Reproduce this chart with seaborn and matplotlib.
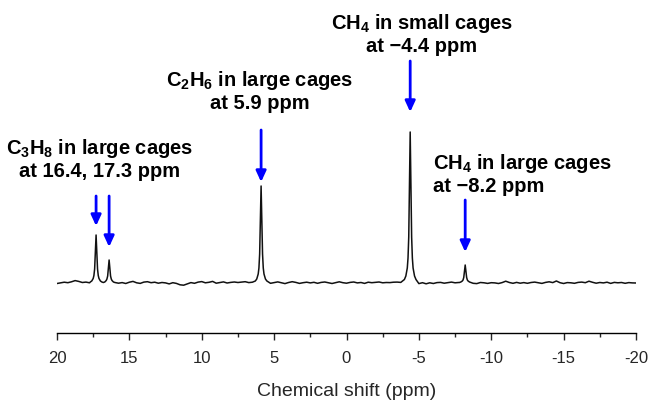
import numpy as np
import pandas as pd
import matplotlib
matplotlib.use("Agg")
import matplotlib.pyplot as plt
import seaborn as sns

# baseline intensity (a.u.) read every 0.25 ppm from 20 down to -20
baseline_ppm = np.arange(20, -20.001, -0.25)
baseline_int = [
    -0.5, 0.2, 0.8, 0.3, 1.2, 2.4, 1.6, 0.5, 0.9, 0.2,      # 20 .. 17.75
    0.6, 1.0, 0.4, -0.8, 0.6, 0.2, -0.6, -0.2, 0.4, -0.5,   # 17.5 .. 15.25
    0.8, 1.6, 0.2, -0.4, 0.9, 1.3, 0.3, 0.8, -0.2, 0.5,     # 15 .. 12.75
    0.1, -0.9, 0.3, -0.4, -1.8, -2.2, -0.9, 0.4, -0.3, 0.9, # 12.5 .. 10.25
    1.4, 0.2, 0.7, 1.6, -0.2, 0.5, 1.1, 0.0, 0.6, 1.0,      # 10 .. 7.75
    0.5, 0.9, 1.3, 0.4, 0.8, 0.6, 0.3, 0.2, 0.5, -0.3,      # 7.5 .. 5.25
    0.4, 1.1, 0.2, -0.6, 0.5, 1.3, 0.6, -0.4, 0.3, 0.8,     # 5 .. 2.75
    0.1, 0.7, -0.3, 0.6, 1.0, 0.2, -0.5, 0.4, 1.2, 0.3,     # 2.5 .. 0.25
    -0.2, 0.6, 1.0, 0.1, 0.5, -0.4, 0.8, 0.3, 0.6, 1.0,     # 0 .. -2.25
    0.2, 0.5, 0.4, 0.8, 0.9, 0.6, -0.2, 0.4, 0.3, -1.2,     # -2.5 .. -4.75
    -0.6, 0.3, -0.8, 0.2, -0.5, 0.4, 0.6, -0.2, 0.3, 0.9,   # -5 .. -7.25
    0.2, 0.5, 0.6, 0.4, 1.0, -0.3, -0.6, 0.5, 0.2, -0.4,    # -7.5 .. -9.75
    0.3, 0.1, -0.5, 0.4, 1.8, 0.5, -0.3, 0.6, -0.2, 0.4,    # -10 .. -12.25
    -0.3, 0.5, 0.9, 0.2, -0.4, 0.6, 1.2, 0.4, 2.0, 0.3,     # -12.5 .. -14.75
    -0.5, 0.4, 0.2, -0.3, 0.6, 0.9, 0.3, 1.8, 0.7, -0.2,    # -15 .. -17.25
    0.5, 0.1, 0.8, -0.4, 0.6, 0.2, 0.5, -0.3, 0.4, 0.1,     # -17.5 .. -19.75
    0.0,                                                    # -20
]

# peaks: centre (ppm) and profile
peak_names = ["C3H8 a", "C3H8 b", "C2H6", "CH4 small", "CH4 large"]
peak_center = [17.3, 16.4, 5.9, -4.4, -8.2]
peak_offsets = [-0.4, -0.3, -0.2, -0.15, -0.1, -0.05, 0.0, 0.05, 0.1, 0.15, 0.2, 0.3, 0.4]
peak_profiles = [
    [1.0, 2.0, 4.5, 7.5, 14, 32, 48, 32, 14, 7.5, 4.5, 2.0, 1.0],
    [0.5, 1.0, 2.5, 4.0, 7, 15, 23, 15, 7, 4.0, 2.5, 1.0, 0.5],
    [2.0, 4.0, 9.0, 15, 29, 64, 97, 64, 29, 15, 9.0, 4.0, 2.0],
    [3.5, 7.0, 15, 25, 46, 100, 151, 100, 46, 25, 15, 7.0, 3.5],
    [0.5, 1.0, 2.0, 3.0, 5.5, 12, 18, 12, 5.5, 3.0, 2.0, 1.0, 0.5],
]

# merge baseline and peak points into one spectrum table
keep = np.ones(len(baseline_ppm), dtype=bool)
for c in peak_center:
    keep &= np.abs(baseline_ppm - c) > 0.42
ppm = list(baseline_ppm[keep])
inten = list(np.array(baseline_int)[keep])
for c, prof in zip(peak_center, peak_profiles):
    ppm += [c + o for o in peak_offsets]
    inten += prof
spec = pd.DataFrame({"ppm": ppm, "intensity": inten}).sort_values("ppm")

sns.set_style("white")
plt.rcParams["font.family"] = ["Liberation Sans", "DejaVu Sans"]
plt.rcParams["mathtext.fontset"] = "custom"
plt.rcParams["mathtext.bf"] = "Liberation Sans:bold"
plt.rcParams["mathtext.rm"] = "Liberation Sans:bold"
plt.rcParams["axes.unicode_minus"] = False

fig = plt.figure(figsize=(6.48, 4.01), dpi=100)
ax = fig.add_axes([57 / 648, (401 - 333) / 401, 579 / 648, 323 / 401])

sns.lineplot(data=spec, x="ppm", y="intensity", color="#111111",
             linewidth=1.1, estimator=None, sort=False, ax=ax)

ax.set_xlim(20, -20)
ax.set_ylim(-50, 273)
ax.set_xticks([20, 15, 10, 5, 0, -5, -10, -15, -20])
ax.set_xticklabels(["20", "15", "10", "5", "0", "-5", "-10", "-15", "-20"])
ax.set_xticks([17.5, 12.5, 7.5, 2.5, -2.5, -7.5, -12.5, -17.5], minor=True)
ax.tick_params(axis="x", which="major", direction="out", length=5, width=1,
               labelsize=12, pad=8, bottom=True)
ax.tick_params(axis="x", which="minor", direction="out", length=3, width=1, bottom=True)
ax.set_yticks([])
ax.set_ylabel("")
ax.set_xlabel("Chemical shift (ppm)", fontsize=14, labelpad=12)
for s in ["top", "left", "right"]:
    ax.spines[s].set_visible(False)
ax.spines["bottom"].set_color("black")
ax.spines["bottom"].set_linewidth(1)

# arrows: (peak index, tail height, tip height)
arrows = [(0, 87, 57), (1, 87, 36), (2, 153, 101), (3, 222, 171), (4, 83, 31)]
for i, y0, y1 in arrows:
    ax.annotate("", xy=(peak_center[i], y1), xytext=(peak_center[i], y0),
                arrowprops=dict(arrowstyle="-|>,head_length=0.65,head_width=0.3",
                                color="#0000ff", lw=2, shrinkA=0, shrinkB=0))

tkw = dict(fontsize=14.5, fontweight="bold", color="black", linespacing=1.1)
ax.text(17.05, 124, "C$_\\mathbf{3}$H$_\\mathbf{8}$ in large cages\nat 16.4, 17.3 ppm",
        ha="center", va="center", **tkw)
ax.text(6.0, 192, "C$_\\mathbf{2}$H$_\\mathbf{6}$ in large cages\nat 5.9 ppm",
        ha="center", va="center", **tkw)
ax.text(-5.2, 249, "CH$_\\mathbf{4}$ in small cages\nat \u22124.4 ppm",
        ha="center", va="center", **tkw)
ax.text(-6.0, 109, "CH$_\\mathbf{4}$ in large cages\nat \u22128.2 ppm",
        ha="left", va="center", multialignment="left", **tkw)

fig.savefig("out.png", dpi=100)
